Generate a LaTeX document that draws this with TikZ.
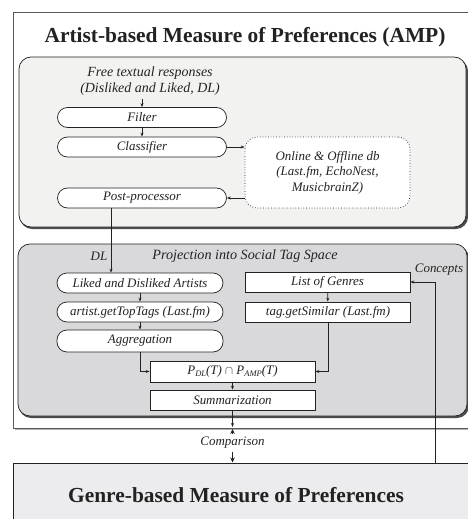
\documentclass[tikz,border=0pt]{standalone}
\usepackage{fontspec}
\setmainfont{Liberation Serif}
\usetikzlibrary{arrows.meta,shadows}
\definecolor{txt}{HTML}{222222}
\definecolor{lightfill}{HTML}{F2F3F1}
\definecolor{grayfill}{HTML}{D9D9DB}
\definecolor{genrefill}{HTML}{ECECEE}
\newcommand{\subsc}[1]{\raisebox{-0.35ex}{\fontsize{8.5}{9}\selectfont\itshape #1}}
\begin{document}
\begin{tikzpicture}[x=1bp,y=-1bp,
  lbl/.style={font=\itshape\fontsize{13}{15.5}\selectfont,text=txt},
  pill/.style={lbl,draw=txt,fill=white,rounded corners=10bp,minimum width=166bp,minimum height=20bp,inner sep=0pt,line width=0.7bp},
  rbox/.style={lbl,draw=txt,fill=white,minimum width=165bp,minimum height=20bp,inner sep=0pt,line width=0.7bp},
  arr/.style={-{Stealth[length=4bp,width=3bp]},line width=0.7bp,draw=txt},
  bigarr/.style={-{Stealth[length=5bp,width=4.5bp]},line width=1.1bp,draw=txt},
  ttl/.style={font=\bfseries\fontsize{21.5}{24}\selectfont,text=txt}
]
\useasboundingbox (0,0) rectangle (468,519);
\clip (0,0) rectangle (468,519);
% outer AMP box
\fill[gray!60] (15,15) rectangle (480,430);
\draw[gray!70!black,fill=white,line width=0.7bp] (13,12) rectangle (478,428);
\node[ttl] (title) at (245,37) {Artist-based Measure of Preferences (AMP)};
% inner box 1
\fill[black!70,rounded corners=12bp] (20,59) rectangle (468,229);
\draw[txt,fill=lightfill,rounded corners=12bp,line width=0.7bp] (19,57) rectangle (466,227);
% inner box 2
\fill[black!70,rounded corners=12bp] (19,246) rectangle (469,418);
\draw[txt,fill=grayfill,rounded corners=12bp,line width=0.7bp] (18,244) rectangle (467,416);

% box 1 content
\node[lbl,align=center,font=\itshape\fontsize{14}{16}\selectfont] (free) at (150,81) {Free textual responses\\(Disliked and Liked, DL)};
\node[pill,minimum width=169bp] (filter) at (142,117.5) {Filter};
\node[pill,minimum width=169bp] (classifier) at (142,147) {Classifier};
\node[pill,minimum width=169bp] (post) at (142,198) {Post-processor};
\node[lbl,align=center,draw=txt,dotted,fill=white,rounded corners=12bp,minimum width=165bp,minimum height=71bp,inner sep=0pt,line width=0.7bp] (db) at (327.5,172.5) {Online \& Offline db\\(Last.fm, EchoNest,\\MusicbrainZ)};
\draw[arr] (free.south -| filter.north) -- (filter.north);
\draw[arr] (filter) -- (classifier);
\draw[arr] (classifier.east) -- (classifier.east -| db.west);
\draw[arr] (post.east -| db.west) -- (post.east);

% box 2 content
\node[lbl,font=\itshape\fontsize{14.2}{16}\selectfont] (proj) at (245,256) {Projection into Social Tag Space};
\node[lbl] (dl) at (99,256) {DL};
\node[lbl] (concepts) at (439,270) {Concepts};
\node[pill] (liked) at (140,283) {Liked and Disliked Artists};
\node[pill] (toptags) at (140,312) {artist.getTopTags (Last.fm)};
\node[pill,minimum height=22bp] (aggr) at (140,341) {Aggregation};
\node[rbox] (genres) at (327.5,282) {List of Genres};
\node[rbox] (similar) at (328,312) {tag.getSimilar (Last.fm)};
\node[rbox,minimum height=21bp] (inter) at (232.5,371.5) {P\subsc{DL}(T) $\cap$ P\subsc{AMP}(T)};
\node[rbox] (summ) at (232.5,400) {Summarization};
\draw[arr] ([xshift=-31bp]post.south) -- ([xshift=-31bp]post.south |- liked.north);
\draw[arr] (liked) -- (toptags);
\draw[arr] (toptags) -- (aggr);
\draw[arr] (genres) -- (similar);
\draw[arr] (aggr.south) |- (inter.west);
\draw[arr] (similar.south) |- (inter.east);
\draw[arr] (inter) -- (summ);
\coordinate (ampbottom) at (232.5,427);
\draw[arr] (summ.south) -- (ampbottom);

% comparison
\node[lbl] (cmp) at (232.5,443) {Comparison};
\coordinate (cmptop) at (232.5,429);
\coordinate (genretop) at (232.5,462.5);
\draw[bigarr] (cmp.north) -- (cmptop);
\draw[bigarr] (cmp.south) -- (genretop);

% genre box
\draw[txt,fill=genrefill,line width=0.7bp] (13,463) rectangle (478,530);
\node[ttl] (genre) at (236,495) {Genre-based Measure of Preferences};
\coordinate (concstart) at (435,463);
\draw[arr] (concstart) |- (genres.east);
\end{tikzpicture}
\end{document}
